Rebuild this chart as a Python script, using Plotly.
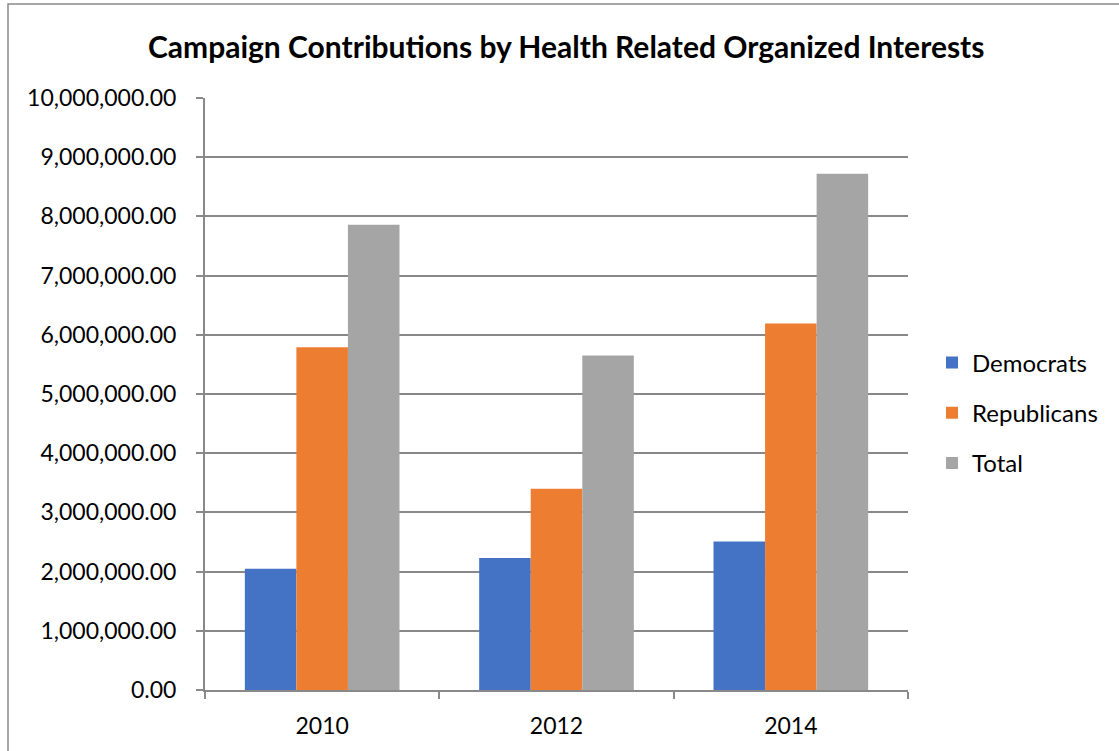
import plotly.graph_objects as go

years = ["2010", "2012", "2014"]
democrats = [2050000, 2230000, 2510000]
republicans = [5790000, 3400000, 6190000]
total = [7860000, 5650000, 8720000]
series_names = ["Democrats", "Republicans", "Total"]
colors = ["#4472C4", "#ED7D31", "#A5A5A5"]
y_ticks = list(range(0, 10000001, 1000000))

FONT = "Lato"
fig = go.Figure()
for name, vals, col in zip(series_names, [democrats, republicans, total], colors):
    fig.add_trace(go.Bar(x=years, y=vals, name=name, marker=dict(color=col, line=dict(width=0)),
                         legendgroup=name))

W, H = 1119, 751
L, R, T, B = 205, 211, 98, 61
pw, ph = W - L - R, H - T - B

def px_to_paper_x(px):
    return (px - L) / pw

def px_to_paper_y(py):
    return (H - B - py) / ph

fig.update_layout(
    width=W, height=H,
    margin=dict(l=L, r=R, t=T, b=B, autoexpand=False),
    paper_bgcolor="white", plot_bgcolor="white",
    barmode="group", bargap=0.34, bargroupgap=0,
    title=dict(text="<b>Campaign Contributions by Health Related Organized Interests</b>",
               x=0.506, xanchor="center", y=1 - 47 / H, yanchor="middle",
               font=dict(family=FONT, size=30, color="#000000")),
    font=dict(family=FONT, size=23, color="#000000"),
    legend=dict(x=px_to_paper_x(932), xanchor="left", y=px_to_paper_y(413), yanchor="middle",
                font=dict(family=FONT, size=24, color="#000000"),
                tracegroupgap=16, traceorder="grouped", itemwidth=30,
                bgcolor="rgba(0,0,0,0)"),
    xaxis=dict(type="category", showline=True, linecolor="#898989", linewidth=2,
               ticks="outside", tickson="boundaries", ticklen=7, tickcolor="#898989", tickwidth=2,
               showgrid=False, tickfont=dict(family=FONT, size=23), ticklabelstandoff=14,
               fixedrange=True),
    yaxis=dict(range=[0, 10000000], tickvals=y_ticks, tickformat=",.2f",
               showline=True, linecolor="#898989", linewidth=2,
               ticks="outside", ticklen=7, tickcolor="#898989", tickwidth=2,
               showgrid=True, gridcolor="#888888", gridwidth=2, zeroline=False,
               tickfont=dict(family=FONT, size=23), ticklabelstandoff=15),
    shapes=[dict(type="rect", xref="paper", yref="paper",
                 x0=px_to_paper_x(8), x1=px_to_paper_x(W + 10),
                 y0=px_to_paper_y(H + 10), y1=px_to_paper_y(4),
                 line=dict(color="#898989", width=1.5), fillcolor="rgba(0,0,0,0)", layer="below")],
)

fig.write_html("out.html")
